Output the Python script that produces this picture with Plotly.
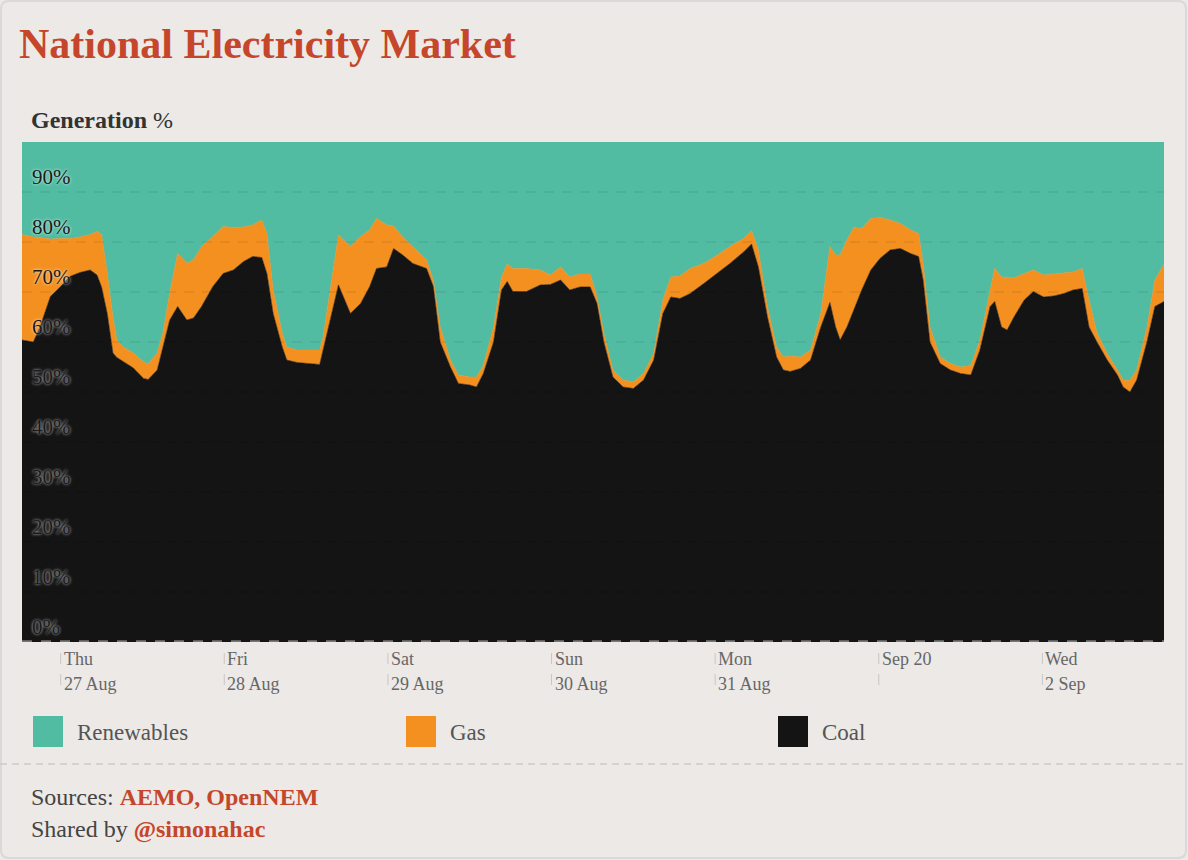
import numpy as np
import plotly.graph_objects as go

# ---------------- data ----------------
times = [
"2020-08-26 18:20","2020-08-26 19:30","2020-08-26 20:00","2020-08-26 21:00","2020-08-26 22:30",
"2020-08-27 00:00","2020-08-27 01:20","2020-08-27 02:50","2020-08-27 04:20","2020-08-27 05:20",
"2020-08-27 06:00","2020-08-27 06:50","2020-08-27 07:40","2020-08-27 08:15","2020-08-27 09:10",
"2020-08-27 10:40","2020-08-27 12:10","2020-08-27 12:50","2020-08-27 14:10","2020-08-27 15:00",
"2020-08-27 16:00","2020-08-27 17:10","2020-08-27 18:30","2020-08-27 19:30","2020-08-27 20:40",
"2020-08-27 22:20","2020-08-27 23:50","2020-08-28 01:20","2020-08-28 02:50","2020-08-28 04:10",
"2020-08-28 05:30","2020-08-28 06:15","2020-08-28 07:10","2020-08-28 08:30","2020-08-28 09:10",
"2020-08-28 10:40","2020-08-28 12:40","2020-08-28 14:00","2020-08-28 14:30","2020-08-28 15:30",
"2020-08-28 16:45","2020-08-28 18:30","2020-08-28 20:00","2020-08-28 21:20","2020-08-28 22:20",
"2020-08-28 23:50","2020-08-29 00:50","2020-08-29 02:10","2020-08-29 03:40","2020-08-29 05:40",
"2020-08-29 06:40","2020-08-29 07:40","2020-08-29 09:10","2020-08-29 10:20","2020-08-29 12:00",
"2020-08-29 13:00","2020-08-29 14:00","2020-08-29 15:30","2020-08-29 16:40","2020-08-29 17:30",
"2020-08-29 18:20","2020-08-29 20:20","2020-08-29 22:20","2020-08-29 23:50","2020-08-30 01:20",
"2020-08-30 02:40","2020-08-30 04:10","2020-08-30 05:40","2020-08-30 06:40","2020-08-30 07:40",
"2020-08-30 09:00","2020-08-30 10:30","2020-08-30 12:00","2020-08-30 13:30","2020-08-30 15:00",
"2020-08-30 16:20","2020-08-30 17:30","2020-08-30 18:50","2020-08-30 20:20","2020-08-30 22:20",
"2020-08-31 00:20","2020-08-31 02:10","2020-08-31 04:10","2020-08-31 05:20","2020-08-31 06:20",
"2020-08-31 07:40","2020-08-31 09:00","2020-08-31 10:00","2020-08-31 11:00","2020-08-31 12:30",
"2020-08-31 14:00","2020-08-31 15:30","2020-08-31 16:50","2020-08-31 17:40","2020-08-31 18:20",
"2020-08-31 19:20","2020-08-31 20:20","2020-08-31 21:30","2020-08-31 22:50","2020-09-01 00:10",
"2020-09-01 01:40","2020-09-01 03:10","2020-09-01 04:40","2020-09-01 05:50","2020-09-01 06:30",
"2020-09-01 07:30","2020-09-01 09:00","2020-09-01 10:30","2020-09-01 12:00","2020-09-01 13:30",
"2020-09-01 14:50","2020-09-01 16:20","2020-09-01 17:00","2020-09-01 18:00","2020-09-01 18:50",
"2020-09-01 19:50","2020-09-01 21:20","2020-09-01 22:40","2020-09-02 00:10","2020-09-02 01:40",
"2020-09-02 03:10","2020-09-02 04:30","2020-09-02 05:50","2020-09-02 06:50","2020-09-02 08:00",
"2020-09-02 09:30","2020-09-02 11:00","2020-09-02 11:50","2020-09-02 12:50","2020-09-02 13:50",
"2020-09-02 15:20","2020-09-02 16:30","2020-09-02 17:50"]

# coal share of generation (%)
coal_pct = [
60.4,60.1,60.0,63.1,69.1, 71.1,73.1,73.9,74.4,73.4, 71.0,65.7,57.8,56.9,56.1,
54.8,52.7,52.5,54.4,59.0, 64.4,67.1,64.4,64.8,67.1, 71.1,73.7,74.4,76.1,77.1,
76.9,73.7,65.7,59.0,56.4, 55.9,55.6,55.5,58.4,64.0, 71.4,65.7,67.7,71.1,74.7,
75.0,78.7,77.4,75.7,74.7, 71.1,60.0,55.0,51.7,51.4, 51.0,53.7,60.0,70.4,72.1,
70.1,70.1,71.4,71.5,72.4, 70.4,71.0,71.0,67.7,60.0, 53.0,51.0,50.7,52.4,56.4,
65.7,69.0,68.7,69.7,71.7, 73.7,75.7,78.0,79.6,75.0, 65.0,57.0,54.4,54.1,54.7,
56.4,63.0,67.9,63.0,60.4, 63.0,66.4,70.4,74.4,76.7, 78.4,78.7,77.7,77.1,72.4,
60.0,55.7,54.4,53.7,53.4, 58.4,67.1,68.1,63.0,62.4, 65.0,68.4,70.1,69.0,69.2,
69.7,70.4,70.7,63.0,60.0, 56.4,53.4,51.0,50.0,52.4, 60.0,67.1,68.1]

# coal + gas share of generation (%)
fossil_pct = [
81.5,81.1,81.0,80.9,80.6, 80.7,80.7,81.0,81.5,82.1, 81.5,73.8,65.0,60.4,59.0,
57.8,56.0,55.6,57.8,61.8, 69.8,77.7,75.8,76.4,79.1, 81.1,83.1,82.9,83.0,83.4,
84.4,81.7,70.4,61.8,59.0, 58.4,58.4,58.4,61.0,70.0, 81.4,79.1,81.1,82.4,84.7,
83.4,83.2,81.0,79.1,76.4, 72.4,63.0,56.4,53.4,53.0, 53.0,55.3,63.0,73.0,75.6,
74.7,74.7,74.4,73.4,75.0, 73.0,73.6,73.6,69.0,61.8, 54.4,52.4,52.0,53.7,57.8,
68.4,73.0,73.2,74.7,75.7, 77.4,79.1,80.7,82.3,78.4, 67.1,59.0,57.0,57.2,57.0,
58.4,65.7,79.1,77.4,77.4, 80.4,82.9,82.7,84.7,84.9, 84.4,83.7,82.4,81.7,75.7,
63.0,57.0,55.7,55.0,55.3, 60.4,70.4,74.7,73.0,72.9, 72.8,73.7,74.4,73.4,73.6,
73.7,74.0,74.7,68.4,61.8, 57.7,54.4,52.4,52.3,54.4, 63.0,72.4,75.6]

series_names = ["Renewables", "Gas", "Coal"]
series_colors = ["#52BCA3", "#F39020", "#141414"]

tick_dates = ["2020-08-27", "2020-08-28", "2020-08-29", "2020-08-30",
              "2020-08-31", "2020-09-01", "2020-09-02"]
tick_top = ["Thu", "Fri", "Sat", "Sun", "Mon", "Sep 20", "Wed"]
tick_bottom = ["27 Aug", "28 Aug", "29 Aug", "30 Aug", "31 Aug", "", "2 Sep"]

y_ticks = [0, 10, 20, 30, 40, 50, 60, 70, 80, 90]

# ---------------- derived series ----------------
coal = np.array(coal_pct)
gas = np.array(fossil_pct) - coal
renew = 100.0 - np.array(fossil_pct)

# ---------------- layout geometry ----------------
W, H = 1188, 860
L, R, T, B = 22, 24, 142, 218
PW, PH = W - L - R, H - T - B
BG = "#ECE9E6"
RED = "#C5462B"
FONT = "Liberation Serif"


def xp(px):
    return (px - L) / PW


def yp(py):
    return (H - B - py) / PH


fig = go.Figure()
for name, vals, col in [("Coal", coal, series_colors[2]),
                        ("Gas", gas, series_colors[1]),
                        ("Renewables", renew, series_colors[0])]:
    fig.add_trace(go.Scatter(
        x=times, y=vals, name=name, stackgroup="one", mode="lines",
        line=dict(width=0.6, color=col, shape="linear"),
        fillcolor=col, hoverinfo="x+y+name", showlegend=False))

shapes = []
annotations = []

# dashed gridlines drawn over the fills
for v in y_ticks[1:]:
    shapes.append(dict(type="line", xref="paper", yref="y", x0=0, x1=1, y0=v, y1=v,
                       line=dict(color="rgba(0,0,0,0.06)", width=2, dash="10px,8px"),
                       layer="above"))
# dashed baseline
shapes.append(dict(type="line", xref="paper", yref="y", x0=0, x1=1, y0=0, y1=0,
                   line=dict(color="#777777", width=3.5, dash="10px,9px"),
                   layer="above"))

# y tick labels inside plot
for v in y_ticks:
    annotations.append(dict(
        x=xp(30), y=v, xref="paper", yref="y", xanchor="left", yanchor="bottom",
        yshift=1, text=f"{v}%", showarrow=False,
        font=dict(family=FONT, size=21, color="#1a1a1a",
                  shadow="0px 0px 3px rgba(255,255,255,0.9)")))

# x tick labels and small tick marks
for d, t1, t2 in zip(tick_dates, tick_top, tick_bottom):
    shapes.append(dict(type="line", xref="x", yref="paper", x0=d, x1=d,
                       y0=yp(653), y1=yp(664), line=dict(color="#c8c8c8", width=1)))
    shapes.append(dict(type="line", xref="x", yref="paper", x0=d, x1=d,
                       y0=yp(674), y1=yp(685), line=dict(color="#c8c8c8", width=1)))
    annotations.append(dict(x=d, y=yp(659), xref="x", yref="paper", xanchor="left",
                            yanchor="middle", xshift=1, text=t1, showarrow=False,
                            font=dict(family=FONT, size=18, color="#666666")))
    if t2:
        annotations.append(dict(x=d, y=yp(684), xref="x", yref="paper", xanchor="left",
                                yanchor="middle", xshift=1, text=t2, showarrow=False,
                                font=dict(family=FONT, size=18, color="#666666")))

# legend (manual)
legend_x = [33, 406, 778]
for name, col, lx in zip(series_names, series_colors, legend_x):
    shapes.append(dict(type="rect", xref="paper", yref="paper",
                       x0=xp(lx), x1=xp(lx + 30), y0=yp(747), y1=yp(716),
                       fillcolor=col, line=dict(width=0)))
    annotations.append(dict(x=xp(lx + 42), y=yp(732), xref="paper", yref="paper",
                            xanchor="left", yanchor="middle", text=name, showarrow=False,
                            font=dict(family=FONT, size=23, color="#555555")))

# footer separator
shapes.append(dict(type="line", xref="paper", yref="paper", x0=xp(0), x1=xp(W),
                   y0=yp(764), y1=yp(764),
                   line=dict(color="#cccccc", width=1.5, dash="7px,5px")))


# card outline with rounded corners
def rounded_rect(x0, y0, x1, y1, r):
    p = f"M {xp(x0 + r)},{yp(y0)} L {xp(x1 - r)},{yp(y0)} Q {xp(x1)},{yp(y0)} {xp(x1)},{yp(y0 + r)} "
    p += f"L {xp(x1)},{yp(y1 - r)} Q {xp(x1)},{yp(y1)} {xp(x1 - r)},{yp(y1)} "
    p += f"L {xp(x0 + r)},{yp(y1)} Q {xp(x0)},{yp(y1)} {xp(x0)},{yp(y1 - r)} "
    p += f"L {xp(x0)},{yp(y0 + r)} Q {xp(x0)},{yp(y0)} {xp(x0 + r)},{yp(y0)} Z"
    return p


shapes.append(dict(type="path", xref="paper", yref="paper",
                   path=rounded_rect(1, 1, W - 2, H - 2, 8),
                   line=dict(color="#d9d9d9", width=2), layer="below"))

# title and subtitles
annotations.append(dict(x=xp(17), y=yp(44), xref="paper", yref="paper", xanchor="left",
                        yanchor="middle", text="<b>National Electricity Market</b>",
                        showarrow=False, font=dict(family=FONT, size=42, color=RED)))
annotations.append(dict(x=xp(29), y=yp(120), xref="paper", yref="paper", xanchor="left",
                        yanchor="middle", text="<b>Generation</b> %", showarrow=False,
                        font=dict(family=FONT, size=24, color="#333333")))
annotations.append(dict(x=xp(29), y=yp(797), xref="paper", yref="paper", xanchor="left",
                        yanchor="middle",
                        text=f"Sources: <b><span style='color:{RED}'>AEMO, OpenNEM</span></b>",
                        showarrow=False, font=dict(family=FONT, size=24, color="#444444")))
annotations.append(dict(x=xp(29), y=yp(829), xref="paper", yref="paper", xanchor="left",
                        yanchor="middle",
                        text=f"Shared by <b><span style='color:{RED}'>@simonahac</span></b>",
                        showarrow=False, font=dict(family=FONT, size=24, color="#444444")))

fig.update_layout(
    width=W, height=H,
    margin=dict(l=L, r=R, t=T, b=B, pad=0),
    paper_bgcolor=BG, plot_bgcolor=BG,
    showlegend=False,
    shapes=shapes, annotations=annotations,
    xaxis=dict(type="date", range=[times[0], times[-1]], showgrid=False,
               zeroline=False, showline=False, showticklabels=False, ticks=""),
    yaxis=dict(range=[0, 100], showgrid=False, zeroline=False, showline=False,
               showticklabels=False, ticks="", fixedrange=True),
    hovermode="x unified",
)

fig.write_html("out.html", include_plotlyjs=True, config={"displayModeBar": False},
               post_script="document.body.style.margin='0';document.body.style.overflow='hidden';")
